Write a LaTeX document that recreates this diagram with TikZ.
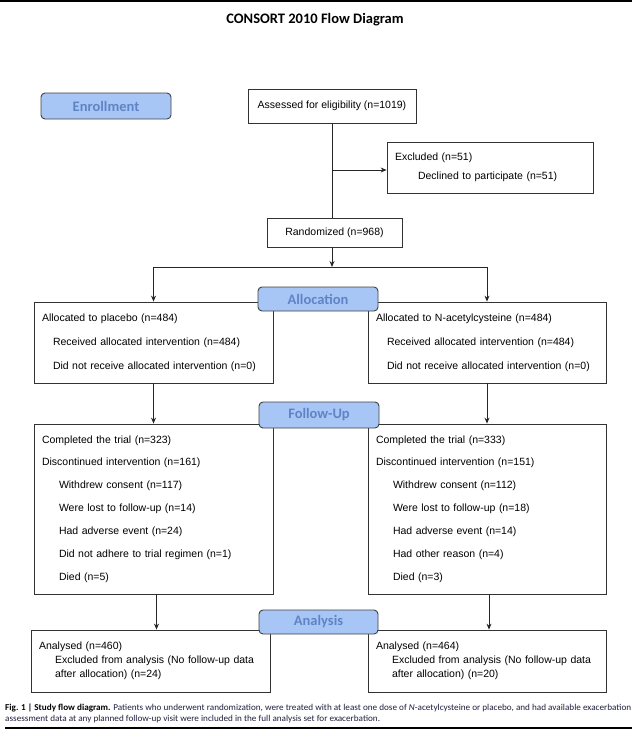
\documentclass[tikz,border=0pt]{standalone}
\usepackage{fontspec}
\setmainfont{Liberation Sans}
\newfontfamily\cali{Carlito}
\usetikzlibrary{arrows.meta}
\definecolor{lblfill}{RGB}{168,198,245}
\definecolor{lbltext}{RGB}{95,132,198}
\definecolor{capblue}{RGB}{30,30,62}
\newsavebox\capboxA
\newsavebox\capboxB
\begin{document}
\sbox{\capboxA}{\cali\fontsize{9}{11}\selectfont{\color{black}\bfseries Fig. 1 | Study flow diagram.} \textcolor{capblue}{Patients who underwent randomization, were treated with at least one dose of \emph{N}-acetylcysteine or placebo, and had available exacerbation}}%
\sbox{\capboxB}{\cali\fontsize{9}{11}\selectfont\textcolor{capblue}{assessment data at any planned follow-up visit were included in the full analysis set for exacerbation.}}%
\pgfmathsetmacro{\capf}{626/\wd\capboxA}%
\begin{tikzpicture}[x=1pt,y=-1pt,
  box/.style={draw=black!80, line width=0.8pt, fill=white, inner ysep=0pt, inner xsep=8pt,
    align=left, font=\fontsize{10.5}{12.6}\selectfont},
  cbox/.style={draw=black!80, line width=0.8pt, fill=white, inner sep=0pt, align=center,
    font=\fontsize{10.5}{12.6}\selectfont},
  lbl/.style={draw=black!75, line width=0.9pt, fill=lblfill, rounded corners=4pt, inner sep=0pt,
    text=lbltext, font=\cali\bfseries\fontsize{14.5}{16}\selectfont},
  conn/.style={draw=black!85, line width=0.9pt},
  arr/.style={conn, -{Stealth[length=6pt,width=5pt]}},
  rule/.style={draw=black, line width=1.5pt}]
\useasboundingbox (0,0) rectangle (642,736);

\coordinate (rt1) at (0,1);
\coordinate (rt2) at (632,1);
\coordinate (rb1) at (5,728);
\coordinate (rb2) at (632,728);
\draw[rule] (rt1) -- (rt2);
\draw[rule, line width=1.3pt] (rb1) -- (rb2);

\node[font=\cali\bfseries\fontsize{14.5}{17}\selectfont] (title) at (315,20) {CONSORT 2010 Flow Diagram};

% enrollment
\node[cbox, minimum width=168pt, minimum height=34pt] (assess) at (332,106) {Assessed for eligibility (n=1019)};
\node[box, minimum width=206pt, minimum height=51pt, text width=190pt,
  font=\fontsize{10.5}{19}\selectfont] (excl) at (490,167.5)
  {Excluded (n=51)\\\hspace*{23pt}Declined to participate (n=51)};
\node[cbox, minimum width=135pt, minimum height=29pt] (rand) at (334.5,232.5) {Randomized (n=968)};

% allocation
\node[box, minimum width=239pt, minimum height=81pt, text width=223pt,
  font=\fontsize{10.5}{24}\selectfont] (allocL) at (153.5,342.5)
  {Allocated to placebo (n=484)\\
   \hspace*{11pt}Received allocated intervention (n=484)\\
   \hspace*{11pt}Did not receive allocated intervention (n=0)};
\node[box, minimum width=238pt, minimum height=81pt, text width=222pt,
  font=\fontsize{10.5}{24}\selectfont] (allocR) at (487,342.5)
  {Allocated to N-acetylcysteine (n=484)\\
   \hspace*{11pt}Received allocated intervention (n=484)\\
   \hspace*{11pt}Did not receive allocated intervention (n=0)};

% follow-up
\node[box, minimum width=239pt, minimum height=170pt, text width=223pt,
  font=\fontsize{10.5}{22.9}\selectfont] (fuL) at (153.5,509)
  {Completed the trial (n=323)\\
   Discontinued intervention (n=161)\\
   \hspace*{17pt}Withdrew consent (n=117)\\
   \hspace*{17pt}Were lost to follow-up (n=14)\\
   \hspace*{17pt}Had adverse event (n=24)\\
   \hspace*{17pt}Did not adhere to trial regimen (n=1)\\
   \hspace*{17pt}Died (n=5)};
\node[box, minimum width=238pt, minimum height=170pt, text width=222pt,
  font=\fontsize{10.5}{22.9}\selectfont] (fuR) at (487,509)
  {Completed the trial (n=333)\\
   Discontinued intervention (n=151)\\
   \hspace*{17pt}Withdrew consent (n=112)\\
   \hspace*{17pt}Were lost to follow-up (n=18)\\
   \hspace*{17pt}Had adverse event (n=14)\\
   \hspace*{17pt}Had other reason (n=4)\\
   \hspace*{17pt}Died (n=3)};

% analysis
\node[box, minimum width=239pt, minimum height=62pt, text width=223pt,
  font=\fontsize{10.5}{14}\selectfont] (anL) at (150.5,661)
  {Analysed (n=460)\\
   \hspace*{16pt}Excluded from analysis (No follow-up data\\
   \hspace*{16pt}after allocation) (n=24)};
\node[box, minimum width=238pt, minimum height=62pt, text width=222pt,
  font=\fontsize{10.5}{14}\selectfont] (anR) at (487,661)
  {Analysed (n=464)\\
   \hspace*{16pt}Excluded from analysis (No follow-up data\\
   \hspace*{16pt}after allocation) (n=20)};

% connectors
\coordinate (j1) at (332,170);
\coordinate (split) at (332,267);
\draw[conn] (assess.south) -- (assess.south |- rand.north);
\draw[arr] (j1) -- (j1 -| excl.west);
\draw[arr] (rand.south -| assess.south) -- (split);
\draw[arr] (split) -| (allocL.north);
\draw[arr] (split) -| (allocR.north);
\draw[arr] (allocL.south) -- (fuL.north);
\draw[arr] (allocR.south) -- (fuR.north);
\draw[arr] ([xshift=3pt]fuL.south) -- ([xshift=3pt]fuL.south |- anL.north);
\draw[arr] ([xshift=2pt]fuR.south) -- ([xshift=2pt]fuR.south |- anR.north);

% phase labels
\node[lbl, minimum width=130pt, minimum height=26pt] (enr) at (106,106) {Enrollment};
\node[lbl, minimum width=120pt, minimum height=24pt] (allocLbl) at (318,299) {Allocation};
\node[lbl, minimum width=120pt, minimum height=26pt] (fuLbl) at (319,415) {Follow-Up};
\node[lbl, minimum width=119pt, minimum height=24pt] (anLbl) at (318.5,622) {Analysis};

% caption
\node[anchor=base west, inner sep=0pt] (cap1) at (5,710) {\scalebox{\capf}[1]{\usebox\capboxA}};
\node[anchor=base west, inner sep=0pt] (cap2) at (5,721) {\scalebox{\capf}[1]{\usebox\capboxB}};
\end{tikzpicture}
\end{document}
